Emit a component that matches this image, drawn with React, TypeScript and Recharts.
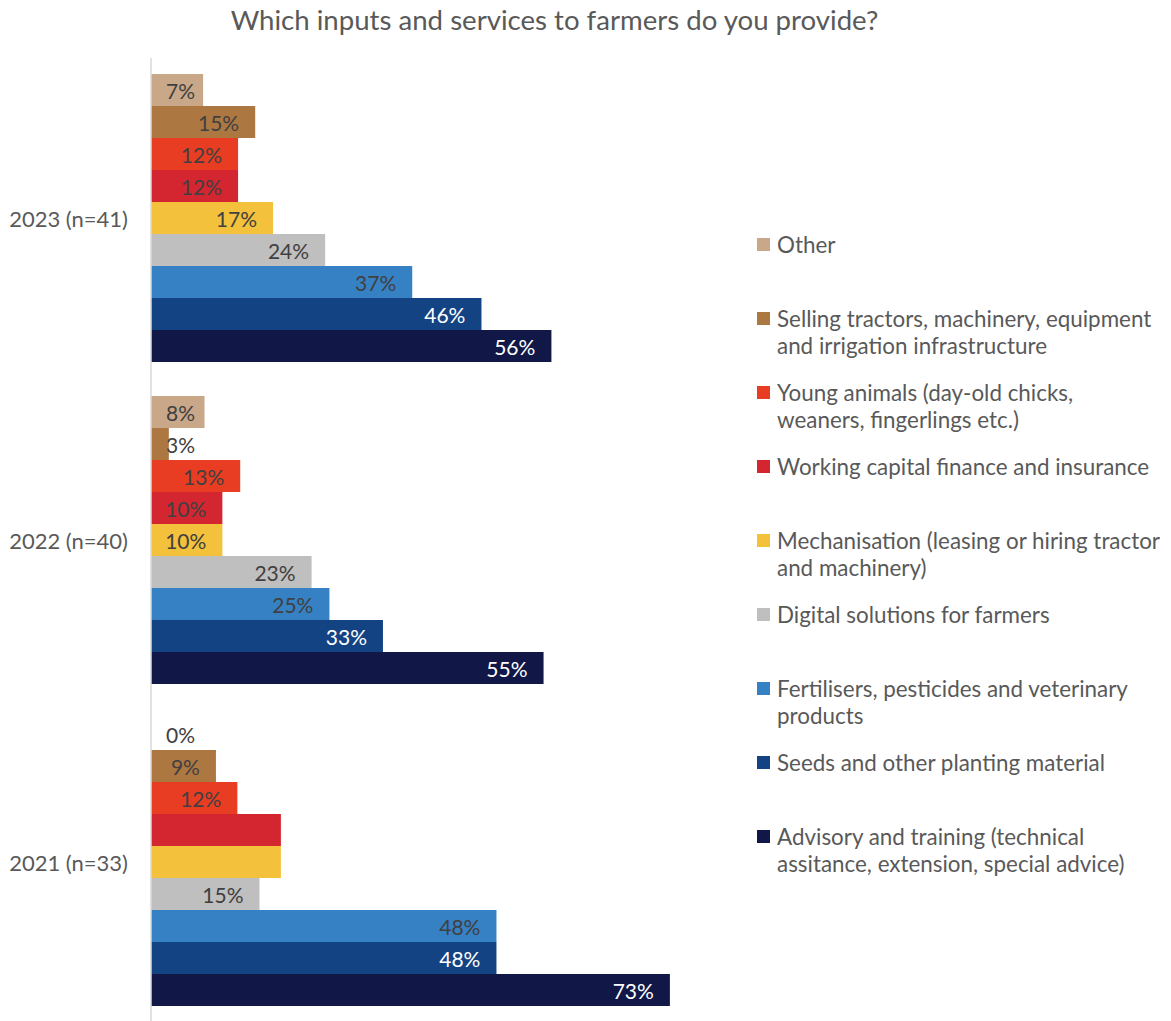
import React from 'react';
import { BarChart, Bar, XAxis, YAxis, Legend, LabelList } from 'recharts';

const categories = ['2023 (n=41)', '2022 (n=40)', '2021 (n=33)'];
const seriesNames = [
  'Other',
  'Selling tractors, machinery, equipment and irrigation infrastructure',
  'Young animals (day-old chicks, weaners, fingerlings etc.)',
  'Working capital finance and insurance',
  'Mechanisation (leasing or hiring tractor and machinery)',
  'Digital solutions for farmers',
  'Fertilisers, pesticides and veterinary products',
  'Seeds and other planting material',
  'Advisory and training (technical assitance, extension, special advice)',
];
const legendLines = [
  ['Other'],
  ['Selling tractors, machinery, equipment', 'and irrigation infrastructure'],
  ['Young animals (day-old chicks,', 'weaners, fingerlings etc.)'],
  ['Working capital finance and insurance'],
  ['Mechanisation (leasing or hiring tractor', 'and machinery)'],
  ['Digital solutions for farmers'],
  ['Fertilisers, pesticides and veterinary', 'products'],
  ['Seeds and other planting material'],
  ['Advisory and training (technical', 'assitance, extension, special advice)'],
];
// percentages (labels show them rounded)
const other = [7.3, 7.5, 0];
const selling = [14.6, 2.5, 9.1];
const young = [12.2, 12.5, 12.1];
const working = [12.2, 10, 18.2];
const mechanisation = [17.1, 10, 18.2];
const digital = [24.4, 22.5, 15.2];
const fertilisers = [36.6, 25, 48.4];
const seeds = [46.3, 32.5, 48.4];
const advisory = [56.1, 55, 72.7];
const seriesValues = [other, selling, young, working, mechanisation, digital, fertilisers, seeds, advisory];
// labels not shown in the original (series index, category index)
const unlabeled: [number, number][] = [[3, 2], [4, 2]];

const colors = ['#C8A888', '#AD7742', '#E83D22', '#D42630', '#F3C13B', '#BFBFBF', '#3680C4', '#144384', '#111847'];
const labelColors = ['#404040', '#404040', '#404040', '#404040', '#404040', '#404040', '#404040', '#FFFFFF', '#FFFFFF'];

const FONT = 'Lato, "Noto Sans", sans-serif';

const data = categories.map((c, ci) => {
  const row: Record<string, any> = { category: c };
  seriesNames.forEach((s, si) => {
    row['s' + si] = seriesValues[si][ci];
  });
  return row;
});

const makeLabel = (si: number) => (props: any) => {
  const { x, y, width, height, value, index } = props;
  if (unlabeled.some(([a, b]) => a === si && b === index)) return null;
  const right = Math.max(x + width - 16, x + 44);
  return (
    <text
      x={right}
      y={y + height / 2}
      textAnchor="end"
      dominantBaseline="central"
      fill={labelColors[si]}
      fontSize={21}
      fontFamily={FONT}
    >
      {Math.round(Number(value))}%
    </text>
  );
};

const LegendContent = () => (
  <div style={{ fontFamily: FONT, color: '#595959', fontSize: 22.4 }}>
    {legendLines.map((lines, i) => (
      <div key={i} style={{ position: 'absolute', top: i * 74, left: 0, width: 420 }}>
        <div
          style={{
            position: 'absolute',
            left: 0,
            top: 7,
            width: 13,
            height: 13,
            background: colors[i],
          }}
        />
        <div style={{ position: 'absolute', left: 20, top: 0, lineHeight: '27px', whiteSpace: 'nowrap' }}>
          {lines.map((l, k) => (
            <div key={k}>{l}</div>
          ))}
        </div>
      </div>
    ))}
  </div>
);

export default function App() {
  return (
    <div
      style={{
        position: 'absolute',
        left: 0,
        top: 0,
        width: 1171,
        height: 1021,
        overflow: 'hidden',
        background: '#fff',
      }}
    >
      <div
        style={{
          position: 'absolute',
          top: 3,
          left: 0,
          width: 1109,
          textAlign: 'center',
          fontFamily: FONT,
          fontSize: 27.6,
          color: '#595959',
        }}
      >
        Which inputs and services to farmers do you provide?
      </div>
      <BarChart
        width={1171}
        height={1024}
        data={data}
        layout="vertical"
        margin={{ top: 58, right: 449, bottom: 0, left: 0 }}
        barCategoryGap={16}
        barGap={0}
      >
        <XAxis type="number" domain={[0, 80]} hide />
        <YAxis
          type="category"
          dataKey="category"
          width={151}
          tickLine={false}
          tickSize={0}
          tickMargin={23}
          axisLine={{ stroke: '#D9D9D9', strokeWidth: 1.5 }}
          tick={{ fill: '#595959', fontSize: 22, fontFamily: FONT }}
        />
        <Legend
          layout="horizontal"
          verticalAlign="middle"
          align="center"
          content={<LegendContent />}
          wrapperStyle={{ position: 'absolute', left: 757, top: 231, width: 414, height: 660 }}
        />
        {seriesNames.map((s, si) => (
          <Bar
            key={s}
            dataKey={'s' + si}
            name={s}
            fill={colors[si]}
            minPointSize={0.01}
            isAnimationActive={false}
          >
            <LabelList dataKey={'s' + si} content={makeLabel(si)} />
          </Bar>
        ))}
      </BarChart>
    </div>
  );
}
